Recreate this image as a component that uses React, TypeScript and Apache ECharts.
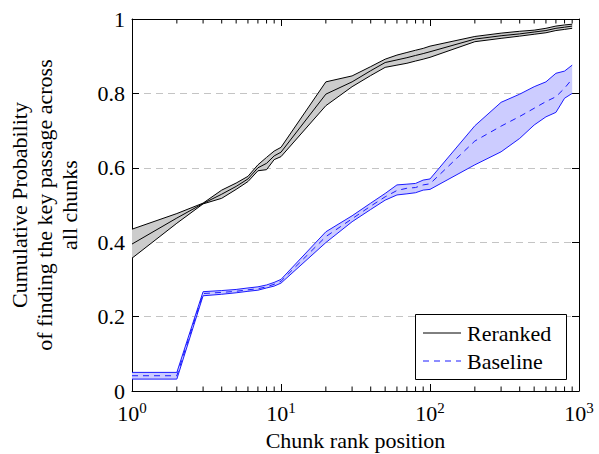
import React, { useEffect, useRef } from "react";
import * as echarts from "echarts";

const ranks = [1, 2, 3, 4, 5, 6, 7, 8, 9, 10, 20, 30, 40, 50, 60, 70, 80, 90, 100, 200, 300, 400, 500, 600, 700, 800, 900];

const rerankedUpper = [0.435, 0.477, 0.505, 0.540, 0.559, 0.577, 0.608, 0.628, 0.645, 0.655, 0.831, 0.847, 0.872, 0.892, 0.903, 0.910, 0.916, 0.921, 0.927, 0.953, 0.962, 0.967, 0.970, 0.975, 0.981, 0.984, 0.986];
const rerankedMean = [0.395, 0.465, 0.504, 0.529, 0.550, 0.570, 0.600, 0.612, 0.632, 0.642, 0.798, 0.831, 0.861, 0.883, 0.890, 0.896, 0.902, 0.907, 0.912, 0.946, 0.955, 0.960, 0.965, 0.969, 0.975, 0.978, 0.981];
const rerankedLower = [0.357, 0.451, 0.503, 0.518, 0.542, 0.563, 0.592, 0.595, 0.622, 0.630, 0.767, 0.818, 0.848, 0.870, 0.876, 0.881, 0.887, 0.892, 0.897, 0.939, 0.948, 0.954, 0.959, 0.963, 0.969, 0.972, 0.975];

const baselineUpper = [0.050, 0.050, 0.267, 0.270, 0.273, 0.277, 0.280, 0.285, 0.292, 0.300, 0.428, 0.471, 0.505, 0.531, 0.554, 0.556, 0.558, 0.567, 0.570, 0.713, 0.776, 0.798, 0.818, 0.831, 0.854, 0.860, 0.876];
const baselineMean = [0.041, 0.041, 0.262, 0.265, 0.268, 0.272, 0.275, 0.280, 0.287, 0.295, 0.415, 0.463, 0.497, 0.522, 0.539, 0.545, 0.547, 0.554, 0.557, 0.672, 0.712, 0.738, 0.760, 0.778, 0.791, 0.814, 0.839];
const baselineLower = [0.032, 0.032, 0.256, 0.260, 0.264, 0.268, 0.271, 0.277, 0.282, 0.290, 0.399, 0.455, 0.488, 0.513, 0.527, 0.530, 0.533, 0.540, 0.542, 0.608, 0.643, 0.679, 0.715, 0.737, 0.749, 0.787, 0.800];

const minorTicks = [2, 3, 4, 5, 6, 7, 8, 9, 20, 30, 40, 50, 60, 70, 80, 90, 200, 300, 400, 500, 600, 700, 800, 900];

const legendNames = ["Reranked", "Baseline"];

const FONT = "Times New Roman";
const FS = 22;

export default function App() {
  const ref = useRef<HTMLDivElement>(null);
  useEffect(() => {
    const chart = echarts.init(ref.current!, null, { renderer: "svg" });
    const pair = (ys: number[]) => ranks.map((x, i) => [x, ys[i]]);

    const band = (upper: number[], lower: number[], fill: string) => ({
      type: "custom",
      silent: true,
      data: [[ranks[0], lower[0]]],
      encode: { x: 0, y: 1 },
      renderItem: (_p: any, api: any) => {
        const pts: number[][] = [];
        ranks.forEach((x, i) => pts.push(api.coord([x, upper[i]])));
        for (let i = ranks.length - 1; i >= 0; i--) pts.push(api.coord([ranks[i], lower[i]]));
        return { type: "polygon", shape: { points: pts }, style: { fill, stroke: "none" } };
      },
      z: 1,
    });

    const xBase: any = {
      type: "log",
      logBase: 10,
      min: 1,
      max: 1000,
      axisLine: { show: true, onZero: false, lineStyle: { color: "#000", width: 1 } },
      axisTick: { show: true, inside: true, length: 7, lineStyle: { color: "#000", width: 1 } },
      splitLine: { show: false },
      minorTick: { show: false },
    };
    const yBase: any = {
      type: "value",
      min: 0,
      max: 1,
      interval: 0.2,
      axisLine: { show: true, lineStyle: { color: "#000", width: 1 } },
      axisTick: { show: true, inside: true, length: 7, lineStyle: { color: "#000", width: 1 } },
    };

    const blue = "#1a1aff";
    const line = (name: string, ys: number[], color: string, type: any = "solid") => ({
      name,
      type: "line",
      data: pair(ys),
      symbol: "none",
      color,
      lineStyle: { color, width: 1, type },
      z: 4,
    });

    const TINY = 0.0002;
    const legendText = (text: string, y: number) => ({
      type: "text",
      x: 467,
      y,
      rotation: TINY,
      z: 101,
      silent: true,
      style: {
        text,
        fill: "#000",
        fontFamily: FONT,
        fontSize: FS,
        align: "left",
        verticalAlign: "middle",
        textAlign: "left",
        textVerticalAlign: "middle",
      },
    });

    chart.setOption({
      animation: false,
      backgroundColor: "#fff",
      textStyle: { fontFamily: FONT },
      grid: { left: 132, right: 20, top: 19, bottom: 63, containLabel: false, outerBoundsMode: "none" },
      xAxis: [
        {
          ...xBase,
          position: "bottom",
          name: "Chunk rank position",
          nameLocation: "middle",
          nameGap: 36,
          nameRotate: 0.01,
          nameTextStyle: { fontFamily: FONT, fontSize: FS, color: "#000", align: "center", verticalAlign: "top" },
          axisLabel: {
            margin: 9,
            color: "#000",
            fontFamily: FONT,
            rotate: 0.01,
            align: "center",
            verticalAlign: "top",
            formatter: (v: number) => `{b|10}{s|${Math.round(Math.log10(v))}}`,
            rich: {
              b: { fontFamily: FONT, fontSize: FS, color: "#000" },
              s: { fontFamily: FONT, fontSize: 15, color: "#000", padding: [0, 0, 12, 0] },
            },
          },
        },
        { ...xBase, position: "top", axisLabel: { show: false } },
      ],
      yAxis: [
        {
          ...yBase,
          position: "left",
          name: "Cumulative Probability\nof finding the key passage across\nall chunks",
          nameLocation: "middle",
          nameRotate: 90,
          nameGap: 50,
          nameTextStyle: { fontFamily: FONT, fontSize: FS, color: "#000", lineHeight: 25, align: "center" },
          axisLabel: {
            margin: 7,
            color: "#000",
            fontFamily: FONT,
            fontSize: FS,
            rotate: 0.01,
            align: "right",
            verticalAlign: "middle",
          },
          splitLine: { show: true, lineStyle: { color: "#c4c4c4", width: 1, type: [7, 5] } },
        },
        { ...yBase, position: "right", axisLabel: { show: false }, splitLine: { show: false } },
      ],
      graphic: [
        {
          type: "rect",
          z: 100,
          silent: true,
          shape: { x: 415.5, y: 314.5, width: 151, height: 65 },
          style: { fill: "#fff", stroke: "#000", lineWidth: 1 },
        },
        {
          type: "line",
          z: 101,
          silent: true,
          shape: { x1: 423, y1: 333, x2: 461, y2: 333 },
          style: { stroke: "#000", lineWidth: 1 },
        },
        {
          type: "line",
          z: 101,
          silent: true,
          shape: { x1: 423, y1: 361, x2: 461, y2: 361 },
          style: { stroke: blue, lineWidth: 1, lineDash: [6, 5] },
        },
        legendText(legendNames[0], 333),
        legendText(legendNames[1], 361),
      ],
      series: [
        band(rerankedUpper, rerankedLower, "#cccccc"),
        band(baselineUpper, baselineLower, "#ccccff"),
        line("_ru", rerankedUpper, "#000"),
        line("_rl", rerankedLower, "#000"),
        line(legendNames[0], rerankedMean, "#000"),
        line("_bu", baselineUpper, blue),
        line("_bl", baselineLower, blue),
        line(legendNames[1], baselineMean, blue, [6, 5]),
        {
          name: "_minor",
          type: "custom",
          silent: true,
          clip: false,
          data: minorTicks.map((v) => [v, 0]),
          encode: { x: 0, y: 1 },
          renderItem: (_p: any, api: any) => {
            const v = api.value(0);
            const b = api.coord([v, 0]);
            const t = api.coord([v, 1]);
            return {
              type: "group",
              children: [
                { type: "line", shape: { x1: b[0], y1: b[1], x2: b[0], y2: b[1] - 4.5 }, style: { stroke: "#000", lineWidth: 1 } },
                { type: "line", shape: { x1: t[0], y1: t[1], x2: t[0], y2: t[1] + 4.5 }, style: { stroke: "#000", lineWidth: 1 } },
              ],
            };
          },
          z: 5,
        },
      ],
    });
    return () => chart.dispose();
  }, []);
  return <div ref={ref} style={{ position: "fixed", left: 0, top: 0, width: 599, height: 454 }} />;
}
